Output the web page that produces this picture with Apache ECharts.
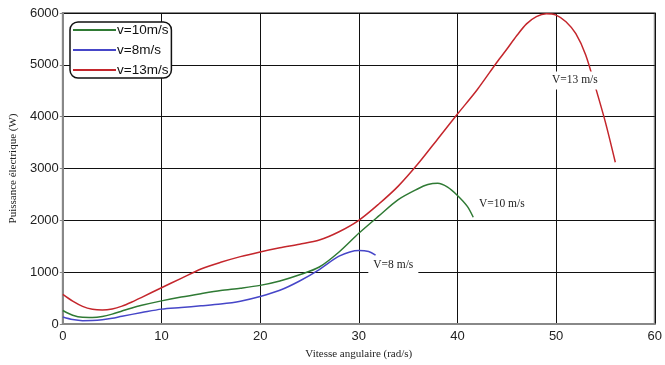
<!DOCTYPE html>
<html>
<head>
<meta charset="utf-8">
<script src="https://cdn.jsdelivr.net/npm/echarts@6/dist/echarts.min.js"></script>
<style>
  html, body { margin: 0; padding: 0; background: #fff; }
  #chart { width: 665px; height: 365px; }
</style>
</head>
<body>
<div id="chart"></div>
<script>
// angular speed (rad/s) and electrical power (W) per wind speed
const speed10 = [0, 1, 2, 3, 4, 5, 6, 7, 8, 10, 12, 14, 16, 18, 20, 22, 24, 26, 28, 30, 32, 34, 36, 37, 38, 39, 40, 41, 41.6];
const power10 = [260, 170, 130, 127, 145, 190, 250, 310, 360, 446, 520, 585, 645, 690, 745, 830, 950, 1100, 1390, 1750, 2080, 2400, 2610, 2690, 2715, 2640, 2480, 2270, 2060];

const speed8 = [0, 1, 2, 3, 4, 5, 6, 8, 10, 12, 14, 16, 18, 20, 22, 24, 26, 28, 30, 31, 31.7];
const power8 = [134, 85, 63, 66, 82, 110, 150, 220, 287, 318, 350, 385, 440, 530, 650, 830, 1050, 1310, 1420, 1400, 1330];

const speed13 = [0, 1, 2, 3, 4, 5, 6, 7, 8, 10, 12, 14, 16, 18, 20, 22, 24, 26, 28, 30, 32, 34, 36, 38, 40, 42, 44, 45, 46, 47, 48, 49, 50, 51, 52, 53, 54, 55, 56];
const power13 = [570, 440, 340, 285, 270, 290, 345, 425, 515, 700, 880, 1060, 1190, 1300, 1390, 1470, 1540, 1620, 1780, 2000, 2310, 2660, 3090, 3570, 4050, 4520, 5050, 5300, 5560, 5790, 5930, 5985, 5960, 5830, 5600, 5190, 4560, 3890, 3120];

const seriesNames = ['v=10m/s', 'v=8m/s', 'v=13m/s'];
const curveLabels = ['V=10 m/s', 'V=8 m/s', 'V=13 m/s'];
const labelAt = [[44.5, 2320], [33.5, 1140], [51.9, 4700]];

const pairs = (xs, ys) => xs.map((x, i) => [x, ys[i]]);
const colors = ['#2f7a34', '#4646c8', '#c4262c'];
const allData = [pairs(speed10, power10), pairs(speed8, power8), pairs(speed13, power13)];

const chart = echarts.init(document.getElementById('chart'));
chart.setOption({
  animation: false,
  grid: { left: 62, right: 8, top: 13, bottom: 39, show: true, borderColor: '#888', borderWidth: 2 },
  legend: {
    orient: 'vertical',
    left: 70,
    top: 22,
    padding: [1, 3, 1, 3],
    itemGap: 6,
    itemWidth: 43,
    itemHeight: 2,
    icon: 'rect',
    borderColor: '#111',
    borderWidth: 1.5,
    borderRadius: 8,
    backgroundColor: '#fff',
    data: seriesNames,
    textStyle: { fontFamily: 'Liberation Sans', fontSize: 13.5, color: '#111', padding: [0, 0, 0, -4], lineHeight: 14 }
  },
  xAxis: {
    type: 'value',
    min: 0,
    max: 60,
    interval: 10,
    name: 'Vitesse angulaire (rad/s)',
    nameLocation: 'middle',
    nameGap: 25,
    nameTextStyle: { fontFamily: 'Liberation Serif', fontSize: 11, color: '#222' },
    axisLine: { show: true, lineStyle: { color: '#888', width: 2 } },
    axisTick: { show: false },
    axisLabel: { fontFamily: 'Liberation Sans', fontSize: 13, color: '#222', margin: 6 },
    splitLine: { show: true, lineStyle: { color: '#111', width: 1 } }
  },
  yAxis: {
    type: 'value',
    min: 0,
    max: 6000,
    interval: 1000,
    name: 'Puissance électrique (W)',
    nameLocation: 'middle',
    nameGap: 35,
    nameTextStyle: { fontFamily: 'Liberation Serif', fontSize: 11, color: '#222' },
    axisLine: { show: true, lineStyle: { color: '#888', width: 2 } },
    axisTick: { show: true, length: 3, lineStyle: { color: '#888' } },
    axisLabel: { fontFamily: 'Liberation Sans', fontSize: 13, color: '#222', margin: 4, formatter: v => String(v) },
    splitLine: { show: true, lineStyle: { color: '#111', width: 1 } }
  },
  series: seriesNames.map((name, i) => ({
    name,
    type: 'line',
    data: allData[i],
    smooth: 0.3,
    symbol: 'none',
    color: colors[i],
    lineStyle: { width: 1.5, color: colors[i] },
    markPoint: {
      symbol: 'rect',
      symbolSize: 0,
      z: 10,
      data: [{ coord: labelAt[i] }],
      label: {
        show: true,
        formatter: curveLabels[i],
        position: 'inside',
        fontFamily: 'Liberation Serif',
        fontSize: 11.5,
        color: '#222',
        backgroundColor: '#fff',
        padding: [3, 5]
      }
    }
  }))
});
</script>
</body>
</html>
